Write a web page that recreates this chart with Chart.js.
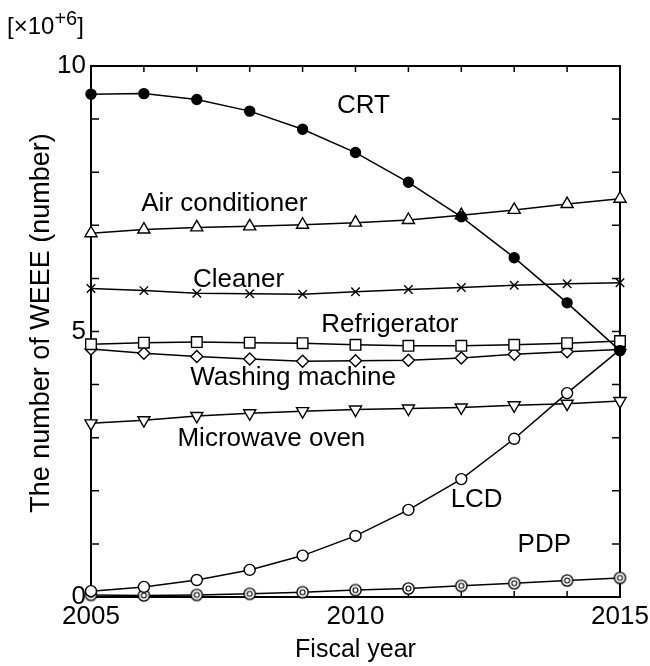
<!DOCTYPE html>
<html>
<head>
<meta charset="utf-8">
<script src="https://cdn.jsdelivr.net/npm/chart.js@4/dist/chart.umd.min.js"></script>
<style>
  html, body { margin: 0; padding: 0; background: #fff; }
  canvas { display: block; }
</style>
</head>
<body>
<canvas id="c" width="650" height="666"></canvas>
<script>
// ---- data (values in millions) ----
const years = [2005, 2006, 2007, 2008, 2009, 2010, 2011, 2012, 2013, 2014, 2015];
const crt = [9.47, 9.48, 9.37, 9.15, 8.81, 8.37, 7.81, 7.16, 6.39, 5.54, 4.64];
const airConditioner = [6.85, 6.92, 6.96, 6.98, 7.01, 7.05, 7.10, 7.19, 7.29, 7.40, 7.50];
const cleaner = [5.81, 5.77, 5.72, 5.71, 5.70, 5.75, 5.79, 5.83, 5.87, 5.90, 5.92];
const refrigerator = [4.76, 4.79, 4.80, 4.79, 4.78, 4.75, 4.73, 4.73, 4.75, 4.78, 4.82];
const washingMachine = [4.67, 4.59, 4.53, 4.48, 4.44, 4.45, 4.46, 4.50, 4.57, 4.62, 4.66];
const microwaveOven = [3.27, 3.33, 3.41, 3.46, 3.50, 3.53, 3.55, 3.57, 3.61, 3.64, 3.69];
const lcd = [0.11, 0.19, 0.32, 0.51, 0.78, 1.15, 1.64, 2.22, 2.98, 3.84, 4.66];
const pdp = [0.04, 0.03, 0.04, 0.06, 0.09, 0.13, 0.16, 0.21, 0.26, 0.31, 0.36];
const xTickLabels = [2005, 2010, 2015];
const yTickLabels = [0, 5, 10];
const xTitle = 'Fiscal year';
const yTitle = 'The number of WEEE (number)';

// ---- in-plot series labels (anchored in data coordinates) ----
const seriesLabels = [
  { text: 'CRT', x: 2010.15, y: 9.115 },
  { text: 'Air conditioner', x: 2007.52, y: 7.275 },
  { text: 'Cleaner', x: 2007.79, y: 5.844 },
  { text: 'Refrigerator', x: 2010.65, y: 4.985 },
  { text: 'Washing machine', x: 2008.82, y: 3.992 },
  { text: 'Microwave oven', x: 2008.41, y: 2.849 },
  { text: 'LCD', x: 2012.29, y: 1.701 },
  { text: 'PDP', x: 2013.57, y: 0.847 }
];

const FONT = '"Liberation Sans", Arial, Helvetica, sans-serif';

function pts(arr) { return years.map((yr, i) => ({ x: yr, y: arr[i] })); }

// double-circle marker for PDP
function doubleCircle() {
  const c = document.createElement('canvas');
  c.width = 15; c.height = 15;
  const g = c.getContext('2d');
  g.fillStyle = '#fff'; g.strokeStyle = '#000'; g.lineWidth = 1.4;
  g.beginPath(); g.arc(7.5, 7.5, 5.6, 0, Math.PI * 2); g.fill(); g.stroke();
  g.lineWidth = 1.1;
  g.beginPath(); g.arc(7.5, 7.5, 2.5, 0, Math.PI * 2); g.stroke();
  return c;
}

function ds(label, arr, style, extra) {
  return Object.assign({
    label: label,
    data: pts(arr),
    borderColor: '#000',
    borderWidth: 1.5,
    pointStyle: style,
    pointRadius: 6,
    pointBorderWidth: 1.4,
    pointBorderColor: '#000',
    pointBackgroundColor: '#fff',
    tension: 0,
    clip: false
  }, extra || {});
}

const framePlugin = {
  id: 'frame',
  beforeDatasetsDraw(chart) {
    const { ctx, chartArea: a, scales: { x, y } } = chart;
    ctx.save();
    ctx.strokeStyle = '#000';
    ctx.lineWidth = 1.5;
    ctx.beginPath();
    x.ticks.forEach(t => {
      const px = x.getPixelForValue(t.value);
      ctx.moveTo(px, a.bottom); ctx.lineTo(px, a.bottom - 6);
      ctx.moveTo(px, a.top); ctx.lineTo(px, a.top + 6);
    });
    y.ticks.forEach(t => {
      const py = y.getPixelForValue(t.value);
      ctx.moveTo(a.left, py); ctx.lineTo(a.left + 8, py);
      ctx.moveTo(a.right, py); ctx.lineTo(a.right - 8, py);
    });
    ctx.stroke();
    ctx.lineWidth = 2;
    ctx.strokeRect(a.left, a.top, a.right - a.left, a.bottom - a.top);
    ctx.restore();
  },
  afterDraw(chart) {
    const { ctx, scales: { x, y } } = chart;
    ctx.save();
    ctx.fillStyle = '#000';
    ctx.textBaseline = 'alphabetic';
    ctx.textAlign = 'center';
    ctx.font = '26px ' + FONT;
    seriesLabels.forEach(l => {
      ctx.fillText(l.text, x.getPixelForValue(l.x), y.getPixelForValue(l.y));
    });
    // y-axis title
    ctx.save();
    ctx.translate(41.5, 323);
    ctx.rotate(-Math.PI / 2);
    ctx.textBaseline = 'middle';
    ctx.font = '27px ' + FONT;
    ctx.fillText(yTitle, 0, 0);
    ctx.restore();
    // multiplier label
    ctx.textAlign = 'left';
    ctx.font = '24px ' + FONT;
    let px = 7;
    const base = 34;
    ctx.fillText('[×10', px, base);
    px += ctx.measureText('[×10').width;
    ctx.font = '20px ' + FONT;
    ctx.fillText('+6', px, base - 9.5);
    px += ctx.measureText('+6').width;
    ctx.font = '24px ' + FONT;
    ctx.fillText(']', px, base);
    ctx.restore();
  }
};

new Chart(document.getElementById('c'), {
  type: 'line',
  data: {
    datasets: [
      ds('CRT', crt, 'circle', { pointBackgroundColor: '#000', pointRadius: 5 }),
      ds('Air conditioner', airConditioner, 'triangle', { pointRadius: 7 }),
      ds('Cleaner', cleaner, 'crossRot', { pointRadius: 6 }),
      ds('Refrigerator', refrigerator, 'rect', { pointRadius: 7.5 }),
      ds('Washing machine', washingMachine, 'rectRot', { pointRadius: 6 }),
      ds('Microwave oven', microwaveOven, 'triangle', { pointRadius: 7, pointRotation: 180 }),
      ds('LCD', lcd, 'circle', { pointRadius: 5.5 }),
      ds('PDP', pdp, doubleCircle())
    ]
  },
  options: {
    responsive: false,
    animation: false,
    devicePixelRatio: 1,
    layout: { padding: { top: 66, right: 30, left: 0, bottom: 0 } },
    plugins: { legend: { display: false }, tooltip: { enabled: false } },
    scales: {
      x: {
        type: 'linear',
        min: 2005, max: 2015,
        grid: { display: false, drawTicks: false },
        border: { display: false },
        ticks: {
          stepSize: 1,
          autoSkip: false,
          maxRotation: 0,
          padding: 4,
          color: '#000',
          font: { family: FONT, size: 26 },
          callback: v => (xTickLabels.includes(v) ? String(v) : '')
        },
        title: {
          display: true, text: xTitle, color: '#000',
          font: { family: FONT, size: 25 },
          padding: { top: 0, bottom: 1 }
        },
        afterFit: s => { s.height = 69; s.paddingLeft = 0; s.paddingRight = 0; }
      },
      y: {
        min: 0, max: 10,
        grid: { display: false, drawTicks: false },
        border: { display: false },
        ticks: {
          stepSize: 1,
          autoSkip: false,
          padding: 5,
          color: '#000',
          font: { family: FONT, size: 26 },
          callback: v => (yTickLabels.includes(v) ? String(v) : '')
        },
        title: { display: false },
        afterFit: s => { s.width = 91; s.paddingTop = 0; s.paddingBottom = 0; }
      }
    }
  },
  plugins: [framePlugin]
});
</script>
</body>
</html>
